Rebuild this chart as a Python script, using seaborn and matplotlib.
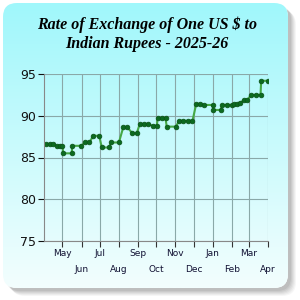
import matplotlib
matplotlib.use("Agg")
import matplotlib.pyplot as plt
import matplotlib.dates as mdates
from matplotlib.patches import FancyBboxPatch
from matplotlib.colors import LinearSegmentedColormap
import numpy as np
import pandas as pd
import seaborn as sns

# weekly-ish readings of the reference rate
dates = ["2025-04-04", "2025-04-10", "2025-04-16", "2025-04-22", "2025-04-27",
         "2025-05-01", "2025-05-02", "2025-05-16", "2025-05-17", "2025-05-31",
         "2025-06-07", "2025-06-14", "2025-06-20", "2025-06-30", "2025-07-04",
         "2025-07-16", "2025-07-19", "2025-08-01", "2025-08-08", "2025-08-15",
         "2025-08-23", "2025-08-30", "2025-09-04", "2025-09-11", "2025-09-18",
         "2025-09-25", "2025-10-02", "2025-10-03", "2025-10-10", "2025-10-16",
         "2025-10-18", "2025-11-02", "2025-11-07", "2025-11-14", "2025-11-21",
         "2025-11-29", "2025-12-05", "2025-12-11", "2025-12-18", "2026-01-01",
         "2026-01-02", "2026-01-14", "2026-01-16", "2026-01-25", "2026-02-01",
         "2026-02-05", "2026-02-09", "2026-02-14", "2026-02-21", "2026-02-26",
         "2026-03-05", "2026-03-13", "2026-03-20", "2026-03-21", "2026-04-01"]
rates = [86.6, 86.6, 86.6, 86.4, 86.4,
         86.4, 85.5, 85.5, 86.4, 86.4,
         86.8, 86.8, 87.6, 87.6, 86.2,
         86.2, 86.8, 86.8, 88.6, 88.6,
         87.9, 87.9, 89.0, 89.0, 89.0,
         88.8, 88.8, 89.7, 89.7, 89.7,
         88.7, 88.7, 89.4, 89.4, 89.4,
         89.4, 91.4, 91.4, 91.3, 91.3,
         90.7, 90.7, 91.3, 91.3, 91.3,
         91.4, 91.4, 91.5, 91.9, 91.9,
         92.5, 92.5, 92.5, 94.2, 94.2]

month_labels = ["May", "Jun", "Jul", "Aug", "Sep", "Oct",
                "Nov", "Dec", "Jan", "Feb", "Mar", "Apr"]
y_ticks = [75, 80, 85, 90, 95]
title = "Rate of Exchange of One US $ to\nIndian Rupees - 2025-26"

df = pd.DataFrame({"date": pd.to_datetime(dates), "rate": rates})

sns.set_style("white")
fig = plt.figure(figsize=(3, 3), dpi=100)
fig.patch.set_facecolor("white")

# rounded card with gradient and soft shadow
bg = fig.add_axes([0, 0, 1, 1])
for i, a in enumerate([0.05, 0.06, 0.07, 0.08, 0.09, 0.10]):
    off = 8 - i
    bg.add_patch(FancyBboxPatch((3 + off, 3 + off), 285, 285,
                                boxstyle="round,pad=0,rounding_size=14",
                                fc="#555555", ec="none", alpha=a, zorder=0))
card = FancyBboxPatch((3, 3), 285, 285, boxstyle="round,pad=0,rounding_size=14",
                      fc="white", ec="none", zorder=1)
bg.add_patch(card)
cmap = LinearSegmentedColormap.from_list("bg", ["#a0f7fb", "#f3fefe"])
grad = np.linspace(0, 1, 256).reshape(-1, 1)
im = bg.imshow(grad, extent=(3, 288, 288, 3), cmap=cmap, aspect="auto", zorder=2)
im.set_clip_path(card)
bg.set_xlim(0, 300)
bg.set_ylim(300, 0)
bg.axis("off")

ax = fig.add_axes([0.147, 0.197, 0.746, 0.556])
ax.patch.set_alpha(0)
sns.lineplot(data=df, x="date", y="rate", ax=ax, color="#45a845", linewidth=1.5,
             marker="o", markersize=3.4, markerfacecolor="#0c6a20",
             markeredgecolor="#0a5218", markeredgewidth=0.5)

ax.set_xlim(pd.Timestamp("2025-04-01"), pd.Timestamp("2026-04-01"))
ax.set_ylim(75, 95)
ax.set_yticks(y_ticks)
ticks = pd.date_range("2025-05-01", "2026-04-01", freq="MS")
ax.set_xticks(ticks)
ax.set_xticklabels([m if i % 2 == 0 else "\n" + m for i, m in enumerate(month_labels)],
                   fontsize=6.5, color="#111133", linespacing=1.9)
ax.tick_params(axis="y", labelsize=9, colors="#111111", length=4, width=0.8,
               direction="out", left=True, pad=2)
ax.tick_params(axis="x", length=4, width=0.8, direction="out", bottom=True,
               color="#333333", pad=2)
ax.grid(True, color="#8aa8a8", linewidth=0.8)
ax.set_xlabel("")
ax.set_ylabel("")
for s in ["top", "right"]:
    ax.spines[s].set_visible(False)
for s in ["left", "bottom"]:
    ax.spines[s].set_color("#888888")
    ax.spines[s].set_linewidth(0.8)

fig.text(0.49, 0.885, title, ha="center", va="center", fontfamily="Liberation Serif",
         style="italic", fontweight="bold", fontsize=11.5, linespacing=1.25,
         color="black")

fig.savefig("out.png", dpi=100)
